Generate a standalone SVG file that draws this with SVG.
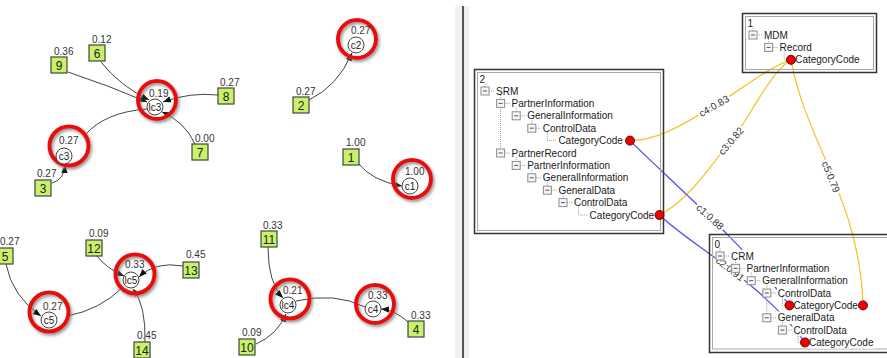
<svg xmlns="http://www.w3.org/2000/svg" xmlns:xlink="http://www.w3.org/1999/xlink" width="887" height="358" viewBox="0 0 887 358">
<style>
text{font-family:"Liberation Sans",Arial,sans-serif;fill:#333}
.num{font-size:10px}
.bx{fill:#c8f26a;stroke:#444;stroke-width:1.2}
.bt{font-size:12px;fill:#222;text-anchor:middle}
.ring{fill:none;stroke:#e81010;stroke-width:4}
.nc{fill:#fff;stroke:#444;stroke-width:1}
.nt{font-size:10px;fill:#222;text-anchor:middle}
.e{fill:none;stroke:#444;stroke-width:1}
.ea{fill:none;stroke:#444;stroke-width:1;marker-end:url(#arr)}
.yl{fill:none;stroke:#f7c531;stroke-width:1.3}
.bl{fill:none;stroke:#4b4bef;stroke-width:1.2}
.lb{fill:#fff}
.lt{font-size:10px;text-anchor:middle;fill:#333}
.fo{fill:none;stroke:#333;stroke-width:1.5}
.fi{fill:none;stroke:#a8a8a8;stroke-width:1}
.dt{fill:none;stroke:#9a9a9a;stroke-width:1;stroke-dasharray:1 1}
.tt{font-size:10px;fill:#1a1a1a}
.tb{fill:#fff}
.rd{fill:#e00;stroke:#700;stroke-width:1}
</style>
<defs>
<marker id="arr" viewBox="0 0 10 10" refX="10" refY="5" markerWidth="8" markerHeight="8" markerUnits="userSpaceOnUse" orient="auto"><path d="M0,1 L10,5 L0,9 z" fill="#111"/></marker>
<filter id="sh" x="-30%" y="-30%" width="160%" height="160%"><feDropShadow dx="1.5" dy="2" stdDeviation="1.5" flood-color="#777" flood-opacity="0.8"/></filter>
<g id="ic"><rect x="-4" y="-4" width="8" height="8" fill="#f6f6f6" stroke="#8c8c8c" stroke-width="1"/><path d="M-2,0 H2" stroke="#555" stroke-width="1"/></g>
</defs>
<rect width="887" height="358" fill="#fff"/>
<rect x="455" y="6" width="14" height="352" fill="#f0f0f0"/>
<path d="M463,6 V358" stroke="#222" stroke-width="1.5"/>

<g id="connectors">
<path class="ea" d="M68,72 Q110,86 147,102"/>
<path class="ea" d="M101,62 Q120,86 149,100"/>
<path class="ea" d="M218,95 Q190,92 163,102"/>
<path class="ea" d="M195,144 Q185,122 162,112"/>
<path class="e" d="M85,135 Q105,112 147,109"/>
<path class="ea" d="M52,183 Q64,180 65,165"/>
<path class="ea" d="M309,100 Q338,86 352,53"/>
<path class="ea" d="M358,163 Q372,181 402,186"/>
<path class="ea" d="M97,256 Q106,268 124,276"/>
<path class="ea" d="M183,266 Q155,261 139,277"/>
<path class="ea" d="M145,342 Q146,305 133,289"/>
<path class="e" d="M67,316 Q100,310 123,287"/>
<path class="ea" d="M6,264 Q12,296 41,316"/>
<path class="ea" d="M268,247 Q268,283 283,298"/>
<path class="ea" d="M256,344 Q277,335 286,314"/>
<path class="e" d="M296,301 Q335,292 365,307"/>
<path class="ea" d="M408,322 Q395,310 381,309"/>

<path class="yl" d="M630,140.6 C660,140.6 690,120 714,106 S770,66 791,59.8"/>
<path class="yl" d="M659.5,215 C690,200 716,158 731,141 S770,72 791,59.8"/>
<path class="yl" d="M791,59.8 C805,140 860,200 863,305.4"/>
<path class="bl" d="M630,140.6 C675,185 745,245 789.5,305.4"/>
<path class="bl" d="M659.5,215 C690,245 760,280 805,342.45"/>

<g transform="translate(714,106) rotate(-30)"><rect class="lb" x="-18" y="-5" width="36" height="10"/><text class="lt" y="3.5">c4:0.83</text></g>
<g transform="translate(731,141) rotate(-49)"><rect class="lb" x="-18" y="-5" width="36" height="10"/><text class="lt" y="3.5">c3:0.82</text></g>
<g transform="translate(831,177) rotate(68)"><rect class="lb" x="-18" y="-5" width="36" height="10"/><text class="lt" y="3.5">c5:0.79</text></g>
<g transform="translate(710,217) rotate(42)"><rect class="lb" x="-18" y="-5" width="36" height="10"/><text class="lt" y="3.5">c1:0.88</text></g>
<g transform="translate(730,269) rotate(38)"><rect class="lb" x="-18" y="-5" width="36" height="10"/><text class="lt" y="3.5">c2:0.91</text></g>
</g>

<g id="n-lc3"><circle class="ring" filter="url(#sh)" cx="157" cy="100" r="19"/><circle class="nc" cx="155" cy="107" r="8"/><text class="nt" x="155" y="110.5">lc3</text><text class="num" x="149" y="97">0.19</text></g>
<g id="n-c3"><circle class="ring" filter="url(#sh)" cx="69" cy="146" r="19.5"/><circle class="nc" cx="64" cy="156" r="8"/><text class="nt" x="64" y="159.5">c3</text><text class="num" x="59" y="144">0.27</text></g>
<g id="n-c2"><circle class="ring" filter="url(#sh)" cx="357" cy="39" r="19"/><circle class="nc" cx="356" cy="45" r="8"/><text class="nt" x="356" y="48.5">c2</text><text class="num" x="351" y="34">0.27</text></g>
<g id="n-c1"><circle class="ring" filter="url(#sh)" cx="412" cy="179" r="19"/><circle class="nc" cx="410" cy="186" r="8"/><text class="nt" x="410" y="189.5">c1</text><text class="num" x="405" y="175">1.00</text></g>
<g id="n-lc5"><circle class="ring" filter="url(#sh)" cx="135" cy="274" r="19.5"/><circle class="nc" cx="131" cy="280" r="8"/><text class="nt" x="131" y="283.5">lc5</text><text class="num" x="125" y="268">0.33</text></g>
<g id="n-c5"><circle class="ring" filter="url(#sh)" cx="49" cy="312" r="19.5"/><circle class="nc" cx="49" cy="320" r="8"/><text class="nt" x="49" y="323.5">c5</text><text class="num" x="43" y="310">0.27</text></g>
<g id="n-lc4"><circle class="ring" filter="url(#sh)" cx="290" cy="299" r="19.5"/><circle class="nc" cx="288" cy="305" r="8"/><text class="nt" x="288" y="308.5">lc4</text><text class="num" x="283" y="294">0.21</text></g>
<g id="n-c4"><circle class="ring" filter="url(#sh)" cx="375" cy="304" r="19"/><circle class="nc" cx="373" cy="309" r="8"/><text class="nt" x="373" y="312.5">c4</text><text class="num" x="368" y="299">0.33</text></g>

<g id="b9"><rect class="bx" x="51" y="57" width="16" height="16"/><text class="bt" x="59" y="69.5">9</text><text class="num" x="54" y="54.5">0.36</text></g>
<g id="b6"><rect class="bx" x="89" y="45" width="16" height="16"/><text class="bt" x="97" y="57.5">6</text><text class="num" x="92" y="43">0.12</text></g>
<g id="b8"><rect class="bx" x="218" y="88" width="16" height="16"/><text class="bt" x="226" y="100.5">8</text><text class="num" x="220" y="85.5">0.27</text></g>
<g id="b7"><rect class="bx" x="192" y="144" width="16" height="16"/><text class="bt" x="200" y="156.5">7</text><text class="num" x="195" y="141.5">0.00</text></g>
<g id="b3"><rect class="bx" x="35" y="180" width="16" height="16"/><text class="bt" x="43" y="192.5">3</text><text class="num" x="37" y="177">0.27</text></g>
<g id="b2"><rect class="bx" x="293" y="97" width="16" height="16"/><text class="bt" x="301" y="109.5">2</text><text class="num" x="296" y="95">0.27</text></g>
<g id="b1"><rect class="bx" x="343" y="149" width="16" height="16"/><text class="bt" x="351" y="161.5">1</text><text class="num" x="346" y="146">1.00</text></g>
<g id="b5"><rect class="bx" x="-3" y="248" width="16" height="16"/><text class="bt" x="5" y="260.5">5</text><text class="num" x="0" y="245">0.27</text></g>
<g id="b12"><rect class="bx" x="86" y="240" width="16" height="16"/><text class="bt" x="94" y="252.5">12</text><text class="num" x="89" y="236.5">0.09</text></g>
<g id="b13"><rect class="bx" x="183" y="262" width="16" height="16"/><text class="bt" x="191" y="274.5">13</text><text class="num" x="186" y="258">0.45</text></g>
<g id="b14"><rect class="bx" x="134" y="342" width="16" height="16"/><text class="bt" x="142" y="354.5">14</text><text class="num" x="137" y="339">0.45</text></g>
<g id="b11"><rect class="bx" x="261" y="231" width="16" height="16"/><text class="bt" x="269" y="243.5">11</text><text class="num" x="263" y="228.5">0.33</text></g>
<g id="b10"><rect class="bx" x="239" y="339" width="16" height="16"/><text class="bt" x="247" y="351.5">10</text><text class="num" x="242" y="336">0.09</text></g>
<g id="b4"><rect class="bx" x="408" y="321" width="16" height="16"/><text class="bt" x="416" y="333.5">4</text><text class="num" x="411" y="319">0.33</text></g>

<g id="tree2">
<rect class="fo" x="474.5" y="69.5" width="189" height="164"/>
<rect class="fi" x="477.5" y="72.5" width="183" height="158"/>
<text class="tt" x="479.5" y="82.5">2</text>
<path class="dt" d="M485,84 V87 M489,91 H494.5 M504.6,103.4 H510 M520.2,115.8 H525.7 M535.8,128.2 H541.3 M504.6,153 H510 M520.2,165.4 H525.7 M535.8,177.8 H541.3 M551.4,190.2 H556.9 M567,202.6 H572.5 M500.6,95 V149 M516.2,107.4 V111.8 M531.8,119.8 V124.2 M547.4,132.2 V140.6 H556.9 M516.2,157 V161.4 M531.8,169.4 V173.8 M547.4,181.8 V186.2 M563,194.2 V198.6 M578.6,206.6 V215 H588"/>
<use xlink:href="#ic" x="485" y="91"/>
<use xlink:href="#ic" x="500.6" y="103.4"/>
<use xlink:href="#ic" x="516.2" y="115.8"/>
<use xlink:href="#ic" x="531.8" y="128.2"/>
<use xlink:href="#ic" x="500.6" y="153"/>
<use xlink:href="#ic" x="516.2" y="165.4"/>
<use xlink:href="#ic" x="531.8" y="177.8"/>
<use xlink:href="#ic" x="547.4" y="190.2"/>
<use xlink:href="#ic" x="563" y="202.6"/>
<text class="tt" x="496" y="94.5">SRM</text>
<text class="tt" x="511.6" y="106.9">PartnerInformation</text>
<text class="tt" x="527.2" y="119.3">GeneralInformation</text>
<text class="tt" x="542.8" y="131.7">ControlData</text>
<text class="tt" x="558.4" y="144.1">CategoryCode</text>
<text class="tt" x="511.6" y="156.5">PartnerRecord</text>
<text class="tt" x="527.2" y="168.9">PartnerInformation</text>
<text class="tt" x="542.8" y="181.3">GeneralInformation</text>
<text class="tt" x="558.4" y="193.7">GeneralData</text>
<text class="tt" x="574" y="206.1">ControlData</text>
<text class="tt" x="589.6" y="218.5">CategoryCode</text>
<circle class="rd" cx="630" cy="140.6" r="4.5"/>
<circle class="rd" cx="659.5" cy="215" r="4.5"/>
</g>

<g id="tree1">
<rect class="fo" x="742.5" y="13.5" width="134" height="59"/>
<rect class="fi" x="745.5" y="16.5" width="128" height="53"/>
<text class="tt" x="747.5" y="26.5">1</text>
<path class="dt" d="M753,28 V31 M757,35 H762.5 M772.6,47.4 H778.1 M768.6,39 V43.4 M784.2,51.4 V59.8 H793.7"/>
<use xlink:href="#ic" x="753" y="35"/>
<use xlink:href="#ic" x="768.6" y="47.4"/>
<text class="tt" x="764" y="38.5">MDM</text>
<text class="tt" x="779.6" y="50.9">Record</text>
<text class="tt" x="795.2" y="63.3">CategoryCode</text>
<circle class="rd" cx="791" cy="59.8" r="4.5"/>
</g>

<g id="tree0">
<rect class="fo" x="709.5" y="234.5" width="190" height="118"/>
<rect class="fi" x="712.5" y="237.5" width="190" height="111.5"/>
<text class="tt" x="714.5" y="247.5">0</text>
<rect class="tb" x="730" y="249.8" width="25" height="12.4"/>
<rect class="tb" x="745.6" y="262.15" width="85" height="12.4"/>
<rect class="tb" x="761.2" y="274.5" width="88" height="12.4"/>
<rect class="tb" x="776.8" y="286.85" width="56" height="12.4"/>
<rect class="tb" x="792.4" y="299.2" width="67" height="12.4"/>
<rect class="tb" x="776.8" y="311.55" width="59" height="12.4"/>
<rect class="tb" x="792.4" y="323.9" width="56" height="12.4"/>
<rect class="tb" x="808" y="336.25" width="67" height="12.4"/>
<path class="dt" d="M720,248 V252 M724,256 H729.5 M739.6,268.35 H745.1 M755.2,280.7 H760.7 M770.8,293.05 H776.3 M770.8,317.75 H776.3 M786.4,330.1 H791.9 M735.6,260 V264.35 M751.2,272.35 V276.7 M766.8,284.7 V313.75 M782.4,297.05 V305.4 H791.9 M782.4,321.75 V326.1 M798,334.1 V342.45 H807.5"/>
<use xlink:href="#ic" x="720" y="256"/>
<use xlink:href="#ic" x="735.6" y="268.35"/>
<use xlink:href="#ic" x="751.2" y="280.7"/>
<use xlink:href="#ic" x="766.8" y="293.05"/>
<use xlink:href="#ic" x="766.8" y="317.75"/>
<use xlink:href="#ic" x="782.4" y="330.1"/>
<text class="tt" x="731" y="259.5">CRM</text>
<text class="tt" x="746.6" y="271.85">PartnerInformation</text>
<text class="tt" x="762.2" y="284.2">GeneralInformation</text>
<text class="tt" x="777.8" y="296.55">ControlData</text>
<text class="tt" x="793.4" y="308.9">CategoryCode</text>
<text class="tt" x="777.8" y="321.25">GeneralData</text>
<text class="tt" x="793.4" y="333.6">ControlData</text>
<text class="tt" x="809" y="345.95">CategoryCode</text>
<circle class="rd" cx="789.5" cy="305.4" r="4.5"/>
<circle class="rd" cx="863" cy="305.4" r="4.5"/>
<circle class="rd" cx="805" cy="342.45" r="4.5"/>
</g>
</svg>
